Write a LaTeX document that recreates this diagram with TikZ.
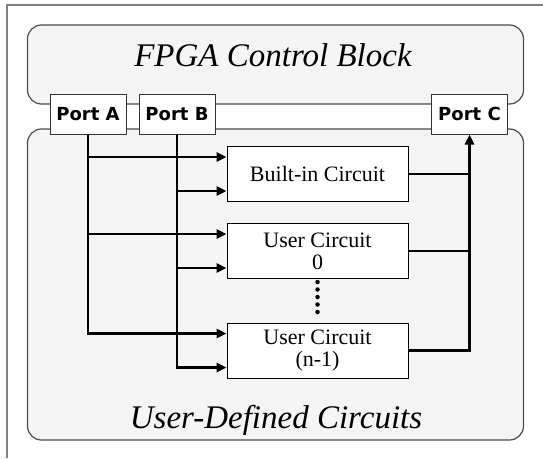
\documentclass[tikz,border=0pt]{standalone}
\usepackage{fontspec}
\setmainfont{Liberation Serif}
\newfontfamily\portfont{DejaVu Sans}
\usetikzlibrary{arrows.meta}
\begin{document}
\begin{tikzpicture}[x=1pt, y=-1pt]
\tikzset{zone/.style={draw=black!70, line width=1.2pt, fill=black!4, rounded corners=14pt}}
\tikzset{portnoeud/.style={draw=black!80, line width=1pt, fill=white, minimum width=76pt, minimum height=40pt, inner sep=0pt, font=\portfont\bfseries\fontsize{18}{20}\selectfont}}
\tikzset{circnoeud/.style={draw, line width=1pt, fill=white, minimum width=181pt, minimum height=55pt, inner sep=0pt, align=center, font=\fontsize{22}{22}\selectfont}}
\tikzset{titre/.style={anchor=base, font=\itshape\fontsize{33}{36}\selectfont}}
\tikzset{fil/.style={line width=2.5pt}}
\tikzset{fleche/.style={fil, -{Triangle[length=10pt, width=9pt]}}}
\useasboundingbox (0,0) rectangle (543,458);
\draw[black!50, line width=2pt] (7,458) -- (7,5) -- (543,5);
\node[zone, minimum width=496pt, minimum height=79pt] (ctrl) at (275.5,64.5) {};
\node[zone, minimum width=496pt, minimum height=311pt] (user) at (275.5,284.5) {};
\node[titre] (ctrltitre) at (273,66.5) {FPGA Control Block};
\node[titre] (usertitre) at (276,428) {User-Defined Circuits};
\node[portnoeud] (pa) at (88,114) {Port A};
\node[portnoeud] (pb) at (177,114) {Port B};
\node[portnoeud] (pc) at (469.5,114) {Port C};
\node[circnoeud] (bi) at (317.5,174) {Built-in Circuit};
\node[circnoeud] (uc0) at (317.5,251) {User Circuit\\0};
\node[circnoeud] (ucn) at (317.5,350.5) {User Circuit\\(n-1)};
\coordinate (a1) at ([yshift=17pt]bi.west);
\coordinate (a2) at ([yshift=17pt]uc0.west);
\coordinate (a3) at ([yshift=17pt]ucn.west);
\coordinate (b1) at ([yshift=-17pt]bi.west);
\coordinate (b2) at ([yshift=-17pt]uc0.west);
\coordinate (b3) at ([yshift=-17pt]ucn.west);
\draw[fleche] (pa.south) |- (a3);
\draw[fleche] (pa.south |- a1) -- (a1);
\draw[fleche] (pa.south |- a2) -- (a2);
\draw[fleche] (pb.south) |- (b3);
\draw[fleche] (pb.south |- b1) -- (b1);
\draw[fleche] (pb.south |- b2) -- (b2);
\draw[fil] (bi.east) -- (bi.east -| pc.south);
\draw[fil] (uc0.east) -- (uc0.east -| pc.south);
\draw[fleche] (ucn.east) -| (pc.south);
\draw[line width=4.5pt, line cap=round, dash pattern=on 0pt off 7.5pt] ([yshift=-3pt]uc0.south) -- ([yshift=3pt]ucn.north);
\end{tikzpicture}
\end{document}
